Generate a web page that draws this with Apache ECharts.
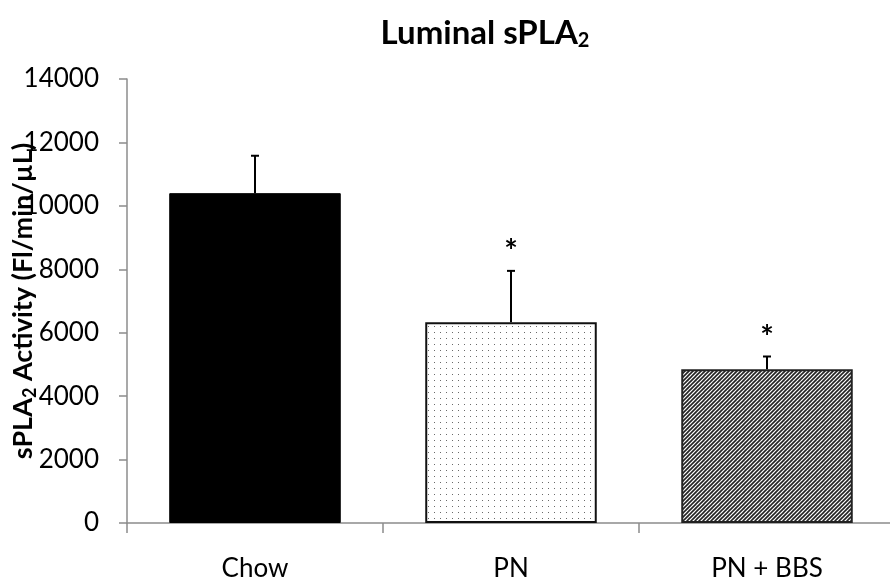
<!DOCTYPE html>
<html><head><meta charset="utf-8">
<script src="https://cdn.jsdelivr.net/npm/echarts@6/dist/echarts.min.js"></script>
<style>html,body{margin:0;padding:0;background:#fff}#c{width:890px;height:587px}</style>
</head><body><div id="c"></div>
<script>
const categories = ['Chow', 'PN', 'PN + BBS'];
const means = [10400, 6330, 4850];
const errors = [1180, 1620, 400];
const sig = ['', '*', '*'];
const yTicks = [0, 2000, 4000, 6000, 8000, 10000, 12000, 14000];

function dotPattern() {
  const c = document.createElement('canvas');
  c.width = 6; c.height = 6;
  const g = c.getContext('2d');
  g.fillStyle = '#ffffff'; g.fillRect(0, 0, 6, 6);
  g.fillStyle = '#6a6a6a'; g.fillRect(2, 2, 1, 1);
  return c;
}
function hatchPattern() {
  const s = 8;
  const c = document.createElement('canvas');
  c.width = s; c.height = s;
  const g = c.getContext('2d');
  g.fillStyle = '#ffffff'; g.fillRect(0, 0, s, s);
  g.strokeStyle = '#222'; g.lineWidth = 1.6;
  for (let k = -1; k <= 1; k++) {
    g.beginPath();
    g.moveTo(k * s - 1, s + 1); g.lineTo(k * s + s + 1, -1);
    g.stroke();
    g.beginPath();
    g.moveTo(k * s - 1 + s / 2, s + 1); g.lineTo(k * s + s + 1 + s / 2, -1);
    g.stroke();
  }
  return c;
}

const fills = [
  { color: '#000000', borderColor: '#000', borderWidth: 1 },
  { color: { image: dotPattern(), repeat: 'repeat' }, borderColor: '#111', borderWidth: 2 },
  { color: { image: hatchPattern(), repeat: 'repeat' }, borderColor: '#222', borderWidth: 2 }
];

const chart = echarts.init(document.getElementById('c'));
chart.setOption({
  animation: false,
  backgroundColor: '#fff',
  title: {
    text: '{t|Luminal sPLA}{s|2}',
    left: 480, top: 10, textAlign: 'center',
    textStyle: {
      rich: {
        t: { fontFamily: 'Lato', fontWeight: 'bold', fontSize: 33, color: '#000' },
        s: { fontFamily: 'Lato', fontWeight: 'bold', fontSize: 20, color: '#000', verticalAlign: 'bottom', padding: [16, 0, 0, 0] }
      }
    }
  },
  graphic: [{
    type: 'text',
    x: 23, y: 301,
    rotation: Math.PI / 2,
    z: 10,
    style: {
      text: '{a|sPLA}{b|2}{a| Activity (Fl/min/µL)}',
      align: 'center', verticalAlign: 'middle',
      rich: {
        a: { fontFamily: 'Lato', fontWeight: 'bold', fontSize: 27, fill: '#000', color: '#000' },
        b: { fontFamily: 'Lato', fontWeight: 'bold', fontSize: 18, fill: '#000', color: '#000', verticalAlign: 'bottom', padding: [14, 0, 0, 0] }
      }
    }
  }],
  grid: { left: 127, right: -5, top: 79, bottom: 64, containLabel: false, outerBoundsMode: 'none' },
  xAxis: {
    type: 'category',
    data: categories,
    axisLine: { show: true, lineStyle: { color: '#8c8c8c', width: 1.5 } },
    axisTick: { show: true, alignWithLabel: false, length: 10, lineStyle: { color: '#8c8c8c', width: 1.5 } },
    axisLabel: { fontFamily: 'Lato', fontSize: 26, color: '#000', margin: 33 }
  },
  yAxis: {
    type: 'value',
    min: yTicks[0], max: yTicks[yTicks.length - 1], interval: yTicks[1] - yTicks[0],
    splitLine: { show: false },
    axisLine: { show: true, lineStyle: { color: '#8c8c8c', width: 1.5 } },
    axisTick: { show: true, length: 8, lineStyle: { color: '#8c8c8c', width: 1.5 } },
    axisLabel: { fontFamily: 'Lato', fontSize: 26, color: '#000', margin: 28, formatter: v => String(v) }
  },
  series: [
    {
      type: 'bar',
      barWidth: '67%',
      data: means.map((v, i) => ({ value: v, itemStyle: fills[i] })),
      z: 2
    },
    {
      type: 'custom',
      z: 3,
      data: means.map((v, i) => [i, v, errors[i], sig[i]]),
      renderItem: function (params, api) {
        const x = api.value(0);
        const top = api.coord([x, api.value(1)]);
        const hi = api.coord([x, api.value(1) + api.value(2)]);
        const cap = 6;
        const children = [
          { type: 'line', shape: { x1: top[0], y1: top[1], x2: hi[0], y2: hi[1] }, style: { stroke: '#000', lineWidth: 2 } },
          { type: 'line', shape: { x1: hi[0] - cap / 2 - 1, y1: hi[1], x2: hi[0] + cap / 2 + 1, y2: hi[1] }, style: { stroke: '#000', lineWidth: 2 } }
        ];
        const s = api.value(3);
        if (s) {
          children.push({
            type: 'text',
            style: { text: s, x: hi[0], y: hi[1] - 18, textAlign: 'center', textVerticalAlign: 'middle',
              font: 'bold 32px Lato', fill: '#000' }
          });
        }
        return { type: 'group', children: children };
      }
    }
  ]
});
</script>
</body></html>
